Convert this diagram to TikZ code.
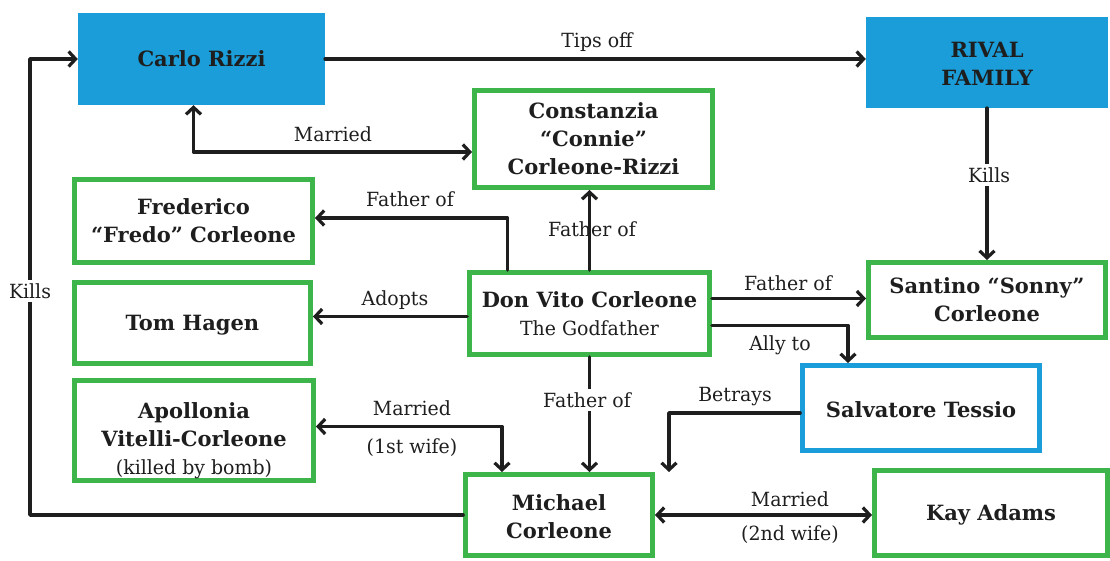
\documentclass[tikz,border=0pt]{standalone}
\usepackage{fontspec}
\setmainfont{DejaVu Serif}
\newfontfamily\labfont{DejaVu Serif}[FakeStretch=0.97]
\usetikzlibrary{arrows.meta}
\definecolor{gfam}{HTML}{3DB54A}
\definecolor{bfam}{HTML}{1A9DD8}
\definecolor{ink}{HTML}{1E1E1E}
\begin{document}
\begin{tikzpicture}[x=1pt,y=-1pt,
  box/.style={rectangle, align=center, inner sep=2pt, font=\fontsize{21}{28}\selectfont\bfseries, text=ink},
  gbox/.style={box, draw=gfam, line width=5pt, fill=white},
  bbox/.style={box, draw=bfam, line width=5pt, fill=white},
  fbox/.style={box, fill=bfam, draw=none},
  lab/.style={font=\labfont\fontsize{19.5}{22}\selectfont, text=ink, inner sep=1pt},
  labw/.style={lab, fill=white, inner sep=3pt},
  conn/.style={draw=ink, line width=3.6pt, line cap=round, line join=round},
  arr/.style={conn, -{Straight Barb[length=7pt,width=15pt,line width=3.2pt]}},
  darr/.style={conn, {Straight Barb[length=7pt,width=15pt,line width=3.2pt]}-{Straight Barb[length=7pt,width=15pt,line width=3.2pt]}}
]
\useasboundingbox[fill=white] (0,0) rectangle (1110,561);

% nodes
\node[fbox, minimum width=247pt, minimum height=92pt] (carlo) at (201.5,59) {Carlo Rizzi};
\node[fbox, minimum width=242pt, minimum height=91pt] (rival) at (987,62.5) {\rule{0pt}{19pt}RIVAL\\FAMILY};
\node[gbox, minimum width=238pt, minimum height=97pt] (connie) at (593.5,139) {Constanzia\\``Connie''\\Corleone-Rizzi};
\node[gbox, minimum width=238pt, minimum height=83pt] (fredo) at (193.5,221) {Frederico\\``Fredo'' Corleone};
\node[gbox, minimum width=236pt, minimum height=81pt] (tom) at (192.5,323) {\rule{0pt}{19pt}Tom Hagen};
\node[gbox, minimum width=240pt, minimum height=82pt] (vito) at (589.5,313.5) {Don Vito Corleone\\{\labfont\fontsize{19.5}{24}\selectfont\mdseries The Godfather}};
\node[gbox, minimum width=237pt, minimum height=75pt] (sonny) at (987,300) {Santino ``Sonny''\\Corleone};
\node[bbox, minimum width=237pt, minimum height=85pt] (tessio) at (921,408) {\rule{0pt}{19pt}Salvatore Tessio};
\node[gbox, minimum width=239pt, minimum height=96pt] (apol) at (194,430.5) {\rule{0pt}{36pt}Apollonia\\Vitelli-Corleone\\{\labfont\fontsize{19.5}{24}\selectfont\mdseries (killed by bomb)}};
\node[gbox, minimum width=187pt, minimum height=81pt] (michael) at (559,515) {\rule{0pt}{20pt}Michael\\Corleone};
\node[gbox, minimum width=233pt, minimum height=85pt] (kay) at (991,513) {\rule{0pt}{20pt}Kay Adams};

\coordinate (kc) at (30,0);

% connectors
\draw[arr] (carlo.east) -- (carlo.east -| rival.west);
\node[lab] (l1) at (597,42) {Tips off};

\draw[darr] ([xshift=-8pt]carlo.south) |- ([yshift=-13pt]connie.west);
\node[lab] (l2) at (333,134) {Married};

\draw[arr] ([xshift=-82pt]vito.north) |- ([yshift=3pt]fredo.east);
\node[lab] (l3) at (410,199) {Father of};

\draw[arr] (vito.north) -- (vito.north |- connie.south);
\node[lab] (l4) at (592,229) {Father of};

\draw[arr] ([yshift=-3pt]vito.west) -- ([yshift=-3pt]vito.west -| tom.east);
\node[lab] (l5) at (395,300) {Adopts};

\draw[arr] ([yshift=15pt]vito.east) -- ([yshift=15pt]vito.east -| sonny.west);
\node[lab] (l6) at (788,283) {Father of};

\draw[arr] ([yshift=-12pt]vito.east) -| ([xshift=-73pt]tessio.north);
\node[lab] (l7) at (780,345) {Ally to};

\draw[arr] (vito.south) -- (vito.south |- michael.north);
\node[labw] (l8) at (587,400) {Father of};

\draw[darr] ([yshift=4pt]apol.east) -| ([xshift=-57pt]michael.north);
\node[lab] (l9) at (412,408) {Married};
\node[lab] (l10) at (412,448) {(1st wife)};

\draw[arr] ([yshift=-5pt]tessio.west) -| ([xshift=110pt]michael.north);
\node[lab] (l11) at (735,397) {Betrays};

\draw[darr] (michael.east) -- (michael.east -| kay.west);
\node[lab] (l12) at (790,499) {Married};
\node[lab] (l13) at (790,535) {(2nd wife)};

\draw[arr] (michael.west) -| (kc |- carlo.west) -- (carlo.west);
\node[labw] (l14) at (30,291) {Kills};

\draw[arr] (rival.south) -- (rival.south |- sonny.north);
\node[labw] (l15) at (989,175) {Kills};
\end{tikzpicture}
\end{document}
